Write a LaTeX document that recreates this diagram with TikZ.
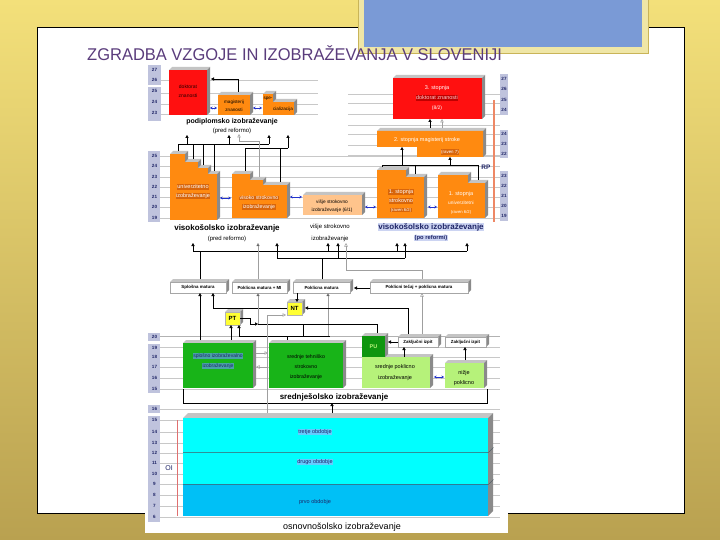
\documentclass[tikz,border=0pt]{standalone}
\usepackage{fontspec}
\setmainfont{Liberation Sans}
\usetikzlibrary{arrows.meta}
\definecolor{goldA}{HTML}{F3E07A}
\definecolor{goldB}{HTML}{B9A150}
\definecolor{ttl}{HTML}{5A3C7C}
\definecolor{bluebox}{HTML}{7A9AD6}
\definecolor{frameY}{HTML}{EFE6A6}
\definecolor{frameG}{HTML}{C9B458}
\definecolor{ageC}{HTML}{BFC3DD}
\definecolor{navy}{HTML}{1E2466}
\definecolor{gridc}{HTML}{C8C8C8}
\definecolor{topf}{HTML}{C4C4C4}
\definecolor{sidef}{HTML}{8A8A8A}
\definecolor{orng}{HTML}{FF8A10}
\definecolor{orngD}{HTML}{D8650A}
\definecolor{redA}{HTML}{FF1010}
\definecolor{redD}{HTML}{C00000}
\definecolor{peach}{HTML}{FFC48C}
\definecolor{grnA}{HTML}{18B418}
\definecolor{grnD}{HTML}{0E960E}
\definecolor{lgrn}{HTML}{B6F27A}
\definecolor{band}{HTML}{4AA0A8}
\definecolor{cyanA}{HTML}{00FFFF}
\definecolor{cyanB}{HTML}{00C0F6}
\definecolor{cyband}{HTML}{66CCFF}
\definecolor{ylw}{HTML}{FFFF33}
\definecolor{dblc}{HTML}{2233CC}
\definecolor{rpbar}{HTML}{EE8866}
\definecolor{oired}{HTML}{E07070}
\definecolor{pobg}{HTML}{CCD4F2}
\newcommand{\myfs}[1]{\fontsize{#1}{#1}\selectfont}
\newcommand{\tdface}[4]{%
  \fill[topf] (#1,#2) -- (#1+3,#2-3) -- (#3+3,#2-3) -- (#3,#2) -- cycle;
  \fill[sidef] (#3,#2) -- (#3+3,#2-3) -- (#3+3,#4-3) -- (#3,#4) -- cycle;}
\newcommand{\tdbox}[7]{%
  \tdface{#2}{#3}{#4}{#5}%
  \node[anchor=north west, inner sep=0pt, outer sep=0pt, minimum width={(#4-#2)*1pt}, minimum height={(#5-#3)*1pt}, align=center, #6] (#1) at (#2,#3) {#7};}
\newcommand{\piece}[5]{\tdface{#1}{#2}{#3}{#4}\fill[#5] (#1,#2) rectangle (#3,#4);}
\begin{document}
\begin{tikzpicture}[x=1pt,y=-1pt,
  lbl/.style={font=\myfs{4.6}\bfseries, text=navy, inner sep=0pt},
  tx/.style={font=\myfs{5}, inner sep=0.5pt},
  grd/.style={draw=gridc, line width=0.4pt},
  con/.style={draw=black, line width=0.6pt, -{Triangle[length=3pt,width=3.2pt]}},
  lin/.style={draw=black, line width=0.6pt},
  glin/.style={draw=gray!75, line width=0.5pt},
  hol/.style={draw=gray!75, line width=0.5pt, -{Triangle[open,length=3.5pt,width=3.5pt]}},
  gcon/.style={draw=gray!75, line width=0.5pt, -{Triangle[length=3pt,width=3.2pt,fill=black]}},
  dbl/.style={draw=dblc, line width=0.6pt, {Stealth[length=2.6pt,width=3pt]}-{Stealth[length=2.6pt,width=3pt]}},
  mbox/.style={fill=white, draw=gray!70, line width=0.3pt, font=\myfs{4.4}\bfseries},
  head/.style={inner sep=0pt},
]
\useasboundingbox (0,0) rectangle (720,540);
\shade[top color=goldA, bottom color=goldB] (0,0) rectangle (720,540);
\draw[fill=white, line width=0.8pt] (37,27) rectangle (684,513);
\draw[frameG, line width=0.6pt, fill=frameY] (358,-5) rectangle (648,53);
\fill[bluebox] (364,-5) rectangle (642,47);
\node[anchor=west, text=ttl, inner sep=0pt] (title) at (87,53) {\scalebox{0.97}[1]{\myfs{17}ZGRADBA VZGOJE IN IZOBRAŽEVANJA V SLOVENIJI}};
\fill[white] (145,62) rectangle (508,533);

% grid lines
\foreach \y in {80,93,104,114} \draw[grd] (161,\y) -- (318,\y);
\foreach \y in {94,103,114,125,134,145,155} \draw[grd] (348,\y) -- (500,\y);
\foreach \y in {156,166,177,187,197,207,218} \draw[grd] (160,\y) -- (500,\y);
\foreach \y in {347,357,367,378,389} \draw[grd] (160,\y) -- (500,\y);
\draw[draw=gray!60, line width=0.5pt] (160,336) -- (500,336);
\foreach \y in {409,420,432,443,453,463,474,484,495,506,517} \draw[grd] (160,\y) -- (500,\y);

% age columns
\fill[ageC] (148,65) rectangle (161,85);
\fill[ageC] (148,87) rectangle (161,121);
\fill[ageC] (148,151) rectangle (160,222);
\fill[ageC] (148,333) rectangle (160,341);
\fill[ageC] (148,344) rectangle (160,393);
\fill[ageC] (148,405) rectangle (160,413);
\fill[ageC] (148,416) rectangle (160,522);
\fill[ageC] (500,74) rectangle (508,115);
\fill[ageC] (500,130) rectangle (508,158);
\fill[ageC] (500,171) rectangle (508,221);
\foreach \v/\y in {27/70,26/80,25/91,24/102,23/113,25/156,24/166,23/177,22/187,21/197,20/207,19/218,20/337,19/348,18/357,17/367,16/378,15/389,16/409,15/420,14/432,13/443,12/453,11/463,10/474,9/484,8/495,7/506,6/517}
  \node[lbl] (L\v-\y) at (154.5,\y) {\v};
\foreach \v/\y in {27/79,26/89,25/100,24/110,24/134,23/144,22/154,23/176,22/186,21/196,20/206,19/216}
  \node[lbl] (R\v-\y) at (504,\y) {\v};

% podiplomsko (pred reformo)
\tdbox{dok}{169}{70}{207}{115}{fill=redA}{}
\node[tx, text=black!85!red] (dkA) at (188,87) {doktorat};
\node[tx, text=black!85!red] (dkB) at (188,96) {znanosti};
\tdbox{mag}{218}{95}{250}{115}{fill=orng}{}
\node[tx, font=\myfs{4.6}] (mgA) at (234,102) {magisterij};
\node[tx, font=\myfs{4.6}] (mgB) at (234,110) {znanosti};
\piece{263}{94}{273}{115}{orng}
\piece{273}{102}{294}{115}{orng}
\node[tx, font=\myfs{4.6}] (spA) at (268,99) {spe-};
\node[tx, font=\myfs{4.6}] (spB) at (283,109) {cializacija};
\draw[dbl] (dok.east |- 0,108) ++(3,0) -- (217,108);
\draw[dbl] (mag.east |- 0,108) ++(3,0) -- (262,108);
\draw[con] (238,92) -- (238,79) -- (211,79);
\node[head, font=\myfs{7}\bfseries] (pod) at (232,122) {podiplomsko izobraževanje};
\node[head, font=\myfs{6}] (podr) at (232,131) {(pred reformo)};

% 3. stopnja, 2. stopnja
\tdbox{st3}{393}{78}{482}{119}{fill=redA}{}
\node[tx, text=white, font=\myfs{5.5}] (s3A) at (437,88) {3. stopnja};
\node[tx, fill=redD, text=white!80!red, font=\myfs{5.5}] (s3B) at (437,98) {doktorat znanosti};
\node[tx, text=white, font=\myfs{5}] (s3C) at (437,108) {(8/2)};
\fill[topf] (377,131) -- (380,128) -- (486,128) -- (483,131) -- cycle;
\fill[sidef] (483,131) -- (486,128) -- (486,154) -- (483,157) -- cycle;
\fill[orng] (377,131) -- (483,131) -- (483,157) -- (417,157) -- (417,147) -- (377,147) -- cycle;
\node[tx, text=white, font=\myfs{5.5}] (s2A) at (427,140) {2. stopnja magisterij stroke};
\node[tx, fill=orngD, text=white, font=\myfs{4.4}] (s2B) at (450,152) {(raven 7)};
\draw[con] (430,128) -- (430,119);
\draw[hol] (442,128) -- (442,119);

% visokosolsko pred reformo
\piece{170}{154}{185}{220}{orng}
\piece{185}{162}{198}{220}{orng}
\piece{198}{168}{208}{220}{orng}
\piece{208}{174}{217}{220}{orng}
\node[tx, fill=orngD, text=white, font=\myfs{5.5}] (unA) at (193,187) {univerzitetno};
\node[tx, fill=orngD, text=white, font=\myfs{5.5}] (unB) at (193,196) {izobraževanje};
\piece{232}{174}{250}{218}{orng}
\piece{250}{180}{263}{218}{orng}
\piece{263}{185}{287}{218}{orng}
\node[tx, fill=orngD, text=white, font=\myfs{5.2}] (vsA) at (259,198) {visoko strokovno};
\node[tx, fill=orngD, text=white, font=\myfs{5.2}] (vsB) at (259,207) {izobraževanje};
\tdbox{vis}{303}{195}{362}{215}{fill=peach}{}
\node[tx, font=\myfs{4.8}] (viA) at (332,202) {višje strokovno};
\node[tx, font=\myfs{4.8}] (viB) at (332,210) {izobraževanje (6/1)};
\draw[dbl] (220,198) -- (231,198);
\draw[dbl] (290,197) -- (302,197);

% 1. stopnja
\piece{377}{170}{406}{218}{orng}
\piece{406}{177}{424}{218}{orng}
\node[tx, fill=orngD, text=white, font=\myfs{5.5}] (s1A) at (401,192) {1. stopnja};
\node[tx, fill=orngD, text=white, font=\myfs{5.5}] (s1B) at (401,201) {strokovno};
\node[tx, fill=orngD, text=white, font=\myfs{4.2}] (s1C) at (401,210) {(raven 6/2)};
\piece{438}{175}{468}{218}{orng}
\piece{468}{183}{485}{218}{orng}
\node[tx, text=white, font=\myfs{5.5}] (u1A) at (461,194) {1. stopnja};
\node[tx, text=white, font=\myfs{4.8}] (u1B) at (461,203) {univerzitetni};
\node[tx, text=white, font=\myfs{4.2}] (u1C) at (461,212) {(raven 6/2)};
\draw[dbl] (365,207) -- (376,207);
\draw[dbl] (428,207) -- (437,207);
\draw[rpbar, line width=2pt] (494,100) -- (494,222);
\node[font=\myfs{6.5}\bfseries, text=navy, inner sep=0pt] (rp) at (486,167) {RP};

% connectors upper
\draw[lin] (178,151) -- (178,144) -- (269,144);
\draw[lin] (193,159) -- (193,144);
\draw[lin] (203,165) -- (203,144);
\draw[lin] (214,171) -- (214,144);
\draw[con] (187,144) -- (187,135);
\draw[con] (229,144) -- (229,135);
\draw[con] (269,144) -- (269,135);
\draw[lin] (245,171) -- (245,148) -- (288,148);
\draw[con] (288,148) -- (288,135);
\draw[lin] (280,182) -- (280,148);
\draw[glin] (259,177) -- (259,141) -- (239,141);
\draw[hol] (239,141) -- (239,134);
\draw[lin] (382,167) -- (382,165) -- (478,165) -- (478,180);
\draw[lin] (415,165) -- (415,174);
\draw[con] (402,165) -- (402,147);
\draw[con] (450,165) -- (450,157);

% headings middle
\node[head, font=\myfs{8}\bfseries] (vsp) at (227,228) {visokošolsko izobraževanje};
\node[head, font=\myfs{6}] (vspr) at (227,239) {(pred reformo)};
\node[head, font=\myfs{6}] (vi1) at (330,227) {višje strokovno};
\node[head, font=\myfs{6}] (vi2) at (330,239) {izobraževanje};
\node[head, font=\myfs{8}\bfseries, text=navy, fill=pobg, inner sep=0.6pt] (vpo) at (431,227) {visokošolsko izobraževanje};
\node[head, font=\myfs{5.8}\bfseries, text=navy, fill=pobg, inner sep=0.6pt] (vpor) at (431,238) {(po reformi)};

% matura boxes
\tdbox{sm}{170}{282}{226}{293}{mbox}{Splošna matura}
\tdbox{pmmi}{232}{282}{287}{293}{mbox}{Poklicna matura + MI}
\tdbox{pm}{293}{282}{350}{293}{mbox}{Poklicna matura}
\tdbox{ptc}{370}{282}{468}{293}{mbox}{Poklicni tečaj + poklicna matura}
\tdbox{nt}{287}{302}{302}{315}{fill=ylw, draw=gray!60, line width=0.3pt, font=\myfs{6}\bfseries}{NT}
\tdbox{pt}{225}{312}{240}{325}{fill=ylw, draw=gray!60, line width=0.3pt, font=\myfs{6}\bfseries}{PT}

\draw[lin] (193,251) -- (467,251);
\draw[con] (193,251) -- (193,243);
\draw[con] (328,251) -- (328,243);
\draw[con] (397,251) -- (397,243);
\draw[con] (467,251) -- (467,243);
\draw[lin] (200,279) -- (200,251);
\draw[gcon] (258,279) -- (258,243);
\draw[lin] (277,258) -- (405,258);
\draw[con] (277,258) -- (277,243);
\draw[con] (338,258) -- (338,243);
\draw[con] (405,258) -- (405,243);
\draw[lin] (322,279) -- (322,258);
\draw[glin] (422,279) -- (422,270) -- (346,270);
\draw[hol] (346,270) -- (346,243);

% secondary boxes
\tdbox{gim}{183}{343}{253}{388}{fill=grnA}{}
\node[tx, fill=band, text=navy, font=\myfs{5}] (gA) at (218,356) {splošno izobraževalno};
\node[tx, fill=band, text=navy, font=\myfs{5}] (gB) at (218,366) {izobraževanje};
\tdbox{sts}{269}{343}{343}{388}{fill=grnA}{}
\node[tx, font=\myfs{5.2}] (tA) at (306,357) {srednje tehniško};
\node[tx, font=\myfs{5.2}] (tB) at (306,367) {strokovno};
\node[tx, font=\myfs{5.2}] (tC) at (306,377) {izobraževanje};
\tdbox{sp}{362}{357}{430}{388}{fill=lgrn}{}
\tdbox{pu}{362}{336}{385}{357}{fill=grnD, text=lgrn, font=\myfs{5.5}\bfseries}{PU}
\node[tx, font=\myfs{5.5}] (pA) at (395,367) {srednje poklicno};
\node[tx, font=\myfs{5.5}] (pB) at (395,378) {izobraževanje};
\tdbox{niz}{445}{363}{484}{388}{fill=lgrn}{}
\node[tx, font=\myfs{5.5}] (nA) at (464,373) {nižje};
\node[tx, font=\myfs{5.5}] (nB) at (464,383) {poklicno};
\tdbox{zi1}{398}{337}{438}{347}{mbox}{Zaključni izpit}
\tdbox{zi2}{445}{337}{486}{347}{mbox}{Zaključni izpit}

% connectors lower
\draw[con] (370,288) -- (354,288);
\draw[con] (297,293) -- (297,302);
\draw[gcon] (328,336) -- (328,293);
\draw[con] (408,334) -- (408,308) -- (305,308);
\draw[con] (287,308) -- (213,308) -- (213,293);
\draw[lin] (240,318) -- (250,318) -- (250,324);
\draw[con] (250,324) -- (258,324);
\draw[gcon] (258,324) -- (258,293);
\draw[lin] (258,324) -- (377,324) -- (377,333);
\draw[con] (200,340) -- (200,293);
\draw[con] (231,340) -- (231,325);
\draw[lin, line width=0.9pt] (239,336) -- (330,336);
\draw[con] (239,336) -- (239,325);
\draw[lin] (287,336) -- (287,340);
\draw[lin] (303,336) -- (303,324);
\draw[con] (398,342) -- (388,342);
\draw[con] (404,357) -- (404,347);
\draw[con] (465,360) -- (465,347);
\draw[hol] (422,334) -- (422,293);
\draw[hol] (256,353) -- (268,353);
\draw[hol] (268,367) -- (256,367);
\draw[dbl] (434,377) -- (444,377);

% srednjesolsko frame
\draw[line width=0.5pt] (183,389) -- (183,403) -- (487,403) -- (487,389);
\node[head, font=\myfs{8}\bfseries] (ss) at (334,397) {srednješolsko izobraževanje};

% osnovna sola
\fill[topf] (183,418) -- (188,413) -- (493,413) -- (488,418) -- cycle;
\fill[sidef] (488,418) -- (493,413) -- (493,511) -- (488,516) -- cycle;
\node[fill=cyanA, anchor=north west, minimum width=305pt, minimum height=34pt, inner sep=0pt] (tre) at (183,418) {};
\node[fill=cyanA, anchor=north west, minimum width=305pt, minimum height=32pt, inner sep=0pt] (dru) at (183,452) {};
\node[fill=cyanB, anchor=north west, minimum width=305pt, minimum height=32pt, inner sep=0pt] (prv) at (183,484) {};
\draw[cyan!30!black, line width=0.4pt] (tre.south west) -- (tre.south east) -- ++(5,-5);
\draw[cyan!30!black, line width=0.4pt] (dru.south west) -- (dru.south east) -- ++(5,-5);
\node[tx, fill=cyband, text=navy, font=\myfs{5.5}] (treT) at (315,432) {tretje obdobje};
\node[tx, fill=cyband, text=navy, font=\myfs{5.5}] (druT) at (315,462) {drugo obdobje};
\node[tx, text=navy, font=\myfs{5.5}] (prvT) at (315,502) {prvo obdobje};
\draw[oired, line width=0.5pt] (177,420) -- (177,516);
\node[font=\myfs{7}, text=navy, fill=white, inner sep=0.5pt] (oi) at (169,468) {OI};
\draw[con] (332,413) -- (332,403);
\draw[glin] (267,413) -- (267,315);
\draw[hol] (267,315) -- (286,315);
\node[head, font=\myfs{9}] (os) at (342,527) {osnovnošolsko izobraževanje};
\end{tikzpicture}
\end{document}
